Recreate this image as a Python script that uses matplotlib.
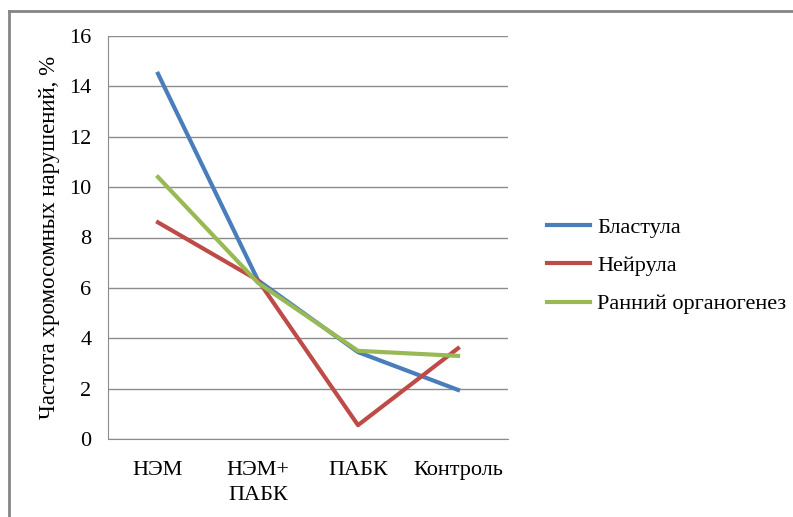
import matplotlib
matplotlib.use("Agg")
import matplotlib.pyplot as plt
from matplotlib.lines import Line2D

categories = ["НЭМ", "НЭМ+\nПАБК", "ПАБК", "Контроль"]
blastula = [14.5, 6.3, 3.45, 1.95]
neirula = [8.6, 6.3, 0.55, 3.6]
organogenez = [10.4, 6.2, 3.5, 3.3]
series_names = ["Бластула", "Нейрула", "Ранний органогенез"]
yticks = [0, 2, 4, 6, 8, 10, 12, 14, 16]

plt.rcParams['font.family'] = ['Liberation Serif', 'DejaVu Serif']

fig = plt.figure(figsize=(7.93, 5.17), dpi=100)
W, H = 793, 517
# outer border (only top and left visible, chart is cropped)
fig.lines.append(Line2D([9/W, 793/W], [1 - 11/H, 1 - 11/H], transform=fig.transFigure,
                        color='#858585', linewidth=2))
fig.lines.append(Line2D([9/W, 9/W], [1 - 11/H, 0], transform=fig.transFigure,
                        color='#858585', linewidth=2))

ax = fig.add_axes([108/W, 1 - 439/H, 400/W, 403/H])
x = list(range(len(categories)))
colors = ['#4a7ebb', '#be4b48', '#98b954']
for vals, name, c in zip([blastula, neirula, organogenez], series_names, colors):
    ax.plot(x, vals, color=c, linewidth=3, label=name)

ax.set_xlim(-0.5, 3.5)
ax.set_ylim(0, 16)
ax.set_yticks(yticks)
ax.set_xticks(x)
ax.set_xticklabels(categories, fontsize=16, linespacing=1.4)
ax.tick_params(axis='y', labelsize=16, length=0, pad=12)
ax.tick_params(axis='x', length=0, pad=16)
ax.grid(axis='y', color='#8c8c8c', linewidth=1)
ax.set_axisbelow(True)
for s in ['top', 'right']:
    ax.spines[s].set_visible(False)
ax.spines['left'].set_color('#8c8c8c')
ax.spines['bottom'].set_color('#8c8c8c')
ax.set_ylabel("Частота хромосомных нарушений, %", fontsize=16.5)
ax.yaxis.set_label_coords(-0.12, 0.5)

leg = ax.legend(loc='center left', bbox_to_anchor=(0.0975 + 1.0, 0.43), frameon=False,
                borderpad=0, borderaxespad=0,
                fontsize=16, handlelength=1.95, handletextpad=0.3, labelspacing=0.8)

fig.savefig("out.png", dpi=100)
